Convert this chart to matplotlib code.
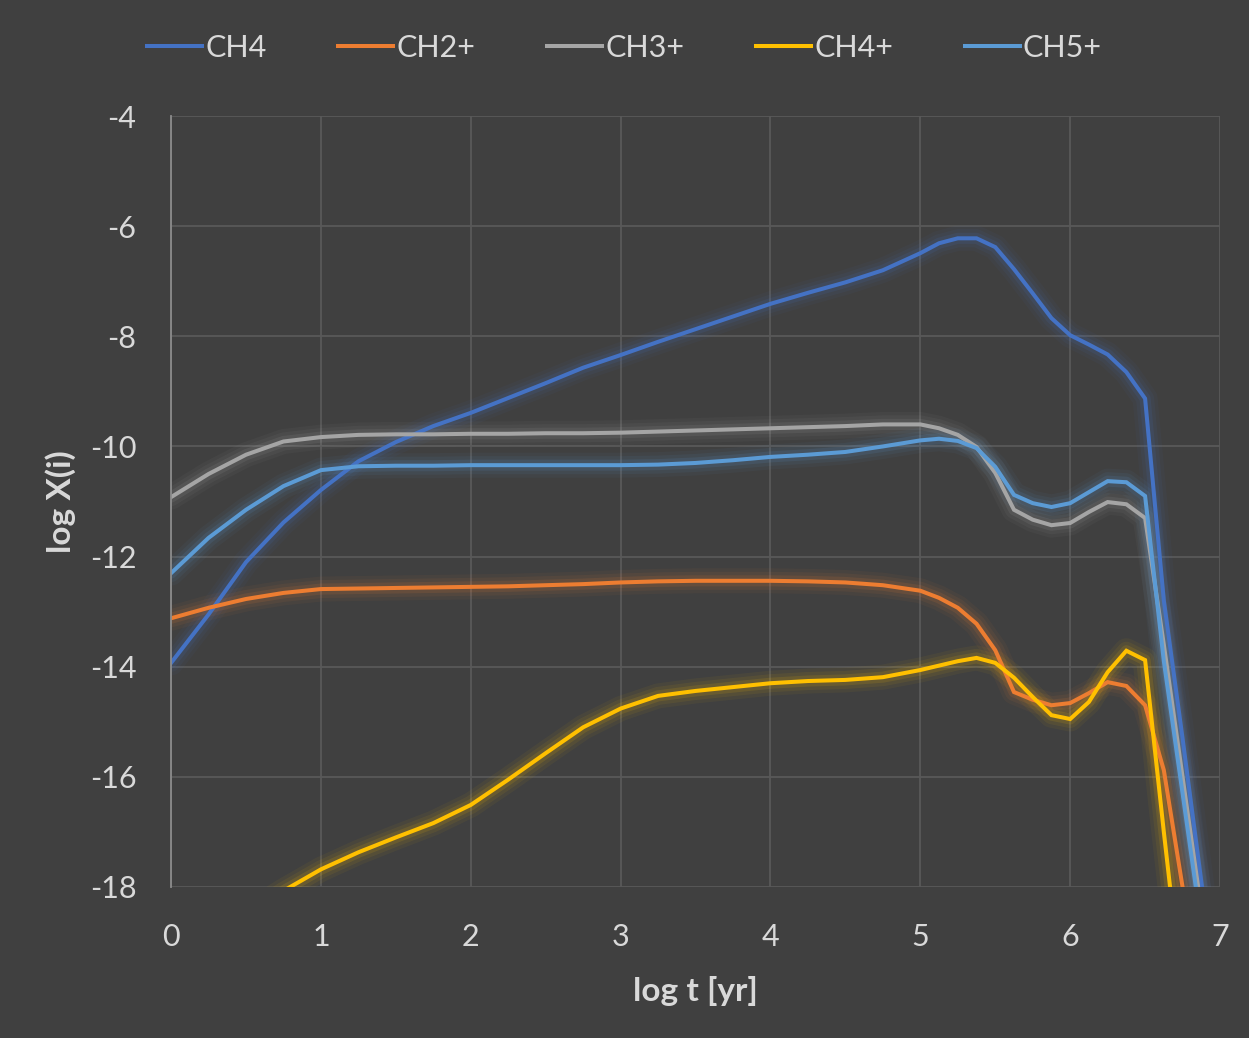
import numpy as np
import matplotlib.pyplot as plt

# log t [yr] sample points
log_t = [0, 0.25, 0.5, 0.75, 1.0, 1.25, 1.5, 1.75, 2.0, 2.25, 2.5, 2.75,
         3.0, 3.25, 3.5, 3.75, 4.0, 4.25, 4.5, 4.75, 5.0, 5.125, 5.25, 5.375,
         5.5, 5.625, 5.75, 5.875, 6.0, 6.125, 6.25, 6.375, 6.5, 6.625, 6.75,
         6.875, 7.0]

ch4 = [-13.93, -13.05, -12.1, -11.38, -10.79, -10.27, -9.92, -9.63, -9.39,
       -9.12, -8.85, -8.57, -8.34, -8.1, -7.87, -7.64, -7.41, -7.21, -7.02,
       -6.8, -6.49, -6.31, -6.22, -6.22, -6.38, -6.78, -7.22, -7.67, -7.98,
       -8.15, -8.33, -8.65, -9.13, -12.8, -15.3, -17.9, -20.4]

ch2p = [-13.12, -12.93, -12.77, -12.66, -12.59, -12.58, -12.57, -12.56,
        -12.55, -12.54, -12.52, -12.5, -12.47, -12.45, -12.44, -12.44, -12.44,
        -12.45, -12.47, -12.52, -12.62, -12.75, -12.93, -13.22, -13.7, -14.46,
        -14.6, -14.7, -14.66, -14.48, -14.28, -14.35, -14.7, -15.88, -18.0,
        -20.0, -22.0]

ch3p = [-10.92, -10.5, -10.15, -9.91, -9.83, -9.79, -9.78, -9.78, -9.77,
        -9.77, -9.76, -9.76, -9.75, -9.73, -9.71, -9.69, -9.67, -9.65, -9.63,
        -9.6, -9.6, -9.67, -9.79, -10.01, -10.48, -11.15, -11.33, -11.43,
        -11.39, -11.19, -11.01, -11.05, -11.3, -13.6, -16.0, -18.4, -21.0]

ch4p = [-19.3, -18.9, -18.5, -18.07, -17.68, -17.37, -17.1, -16.84, -16.51,
        -16.05, -15.57, -15.1, -14.76, -14.53, -14.44, -14.37, -14.3, -14.26,
        -14.24, -14.19, -14.06, -13.98, -13.9, -13.84, -13.93, -14.2, -14.55,
        -14.88, -14.95, -14.64, -14.1, -13.71, -13.88, -17.0, -20.0, -23.0,
        -26.0]

ch5p = [-12.3, -11.66, -11.15, -10.72, -10.43, -10.36, -10.35, -10.35, -10.34,
        -10.34, -10.34, -10.34, -10.34, -10.33, -10.3, -10.25, -10.19, -10.15,
        -10.1, -10.0, -9.89, -9.86, -9.9, -10.03, -10.37, -10.88, -11.03,
        -11.1, -11.03, -10.83, -10.63, -10.65, -10.9, -13.9, -16.3, -18.7,
        -21.0]

series = [("CH4", ch4, "#4472C4"), ("CH2+", ch2p, "#ED7D31"),
          ("CH3+", ch3p, "#A5A5A5"), ("CH4+", ch4p, "#FFC000"),
          ("CH5+", ch5p, "#5B9BD5")]

bg = "#404040"
txt = "#D9D9D9"
plt.rcParams['font.family'] = ['Lato', 'DejaVu Sans']
plt.rcParams['axes.unicode_minus'] = False

fig = plt.figure(figsize=(12.49, 10.38), dpi=100, facecolor=bg)
ax = fig.add_axes([0.137, 0.1455, 0.8398, 0.7427])
ax.set_facecolor(bg)

# glow underneath each line
for name, vals, col in series:
    for lw, a in [(18, 0.05), (13, 0.07), (8, 0.12)]:
        ax.plot(log_t, vals, color=col, lw=lw, alpha=a, solid_capstyle='round',
                solid_joinstyle='round')
handles = []
for name, vals, col in series:
    h, = ax.plot(log_t, vals, color=col, lw=2.9, label=name,
                 solid_joinstyle='miter')
    handles.append(h)

ax.set_xlim(0, 7)
ax.set_ylim(-18, -4)
ax.set_xticks(range(0, 8))
ax.set_yticks(range(-18, -3, 2))
ax.grid(True, color="#595959", lw=1.3)
ax.set_axisbelow(True)
for s in ["top", "right", "bottom"]:
    ax.spines[s].set_visible(False)
ax.spines["left"].set_color("#8C8C8C")
ax.spines["left"].set_linewidth(1.3)
ax.tick_params(length=0, colors=txt, labelsize=22)
ax.tick_params(axis='x', pad=26)
ax.tick_params(axis='y', pad=25)

ax.set_xlabel("log t [yr]", color=txt, fontsize=24, fontweight='bold', labelpad=18)
ax.set_ylabel("log X(i)", color=txt, fontsize=24, fontweight='bold', labelpad=10)

fig.legend(handles=handles, loc="center", bbox_to_anchor=(0.5, 0.954), ncol=5,
           frameon=False, fontsize=22, labelcolor=txt, handlelength=1.8,
           handletextpad=0.1, columnspacing=2.35)

fig.savefig("out.png", dpi=100, facecolor=bg)
